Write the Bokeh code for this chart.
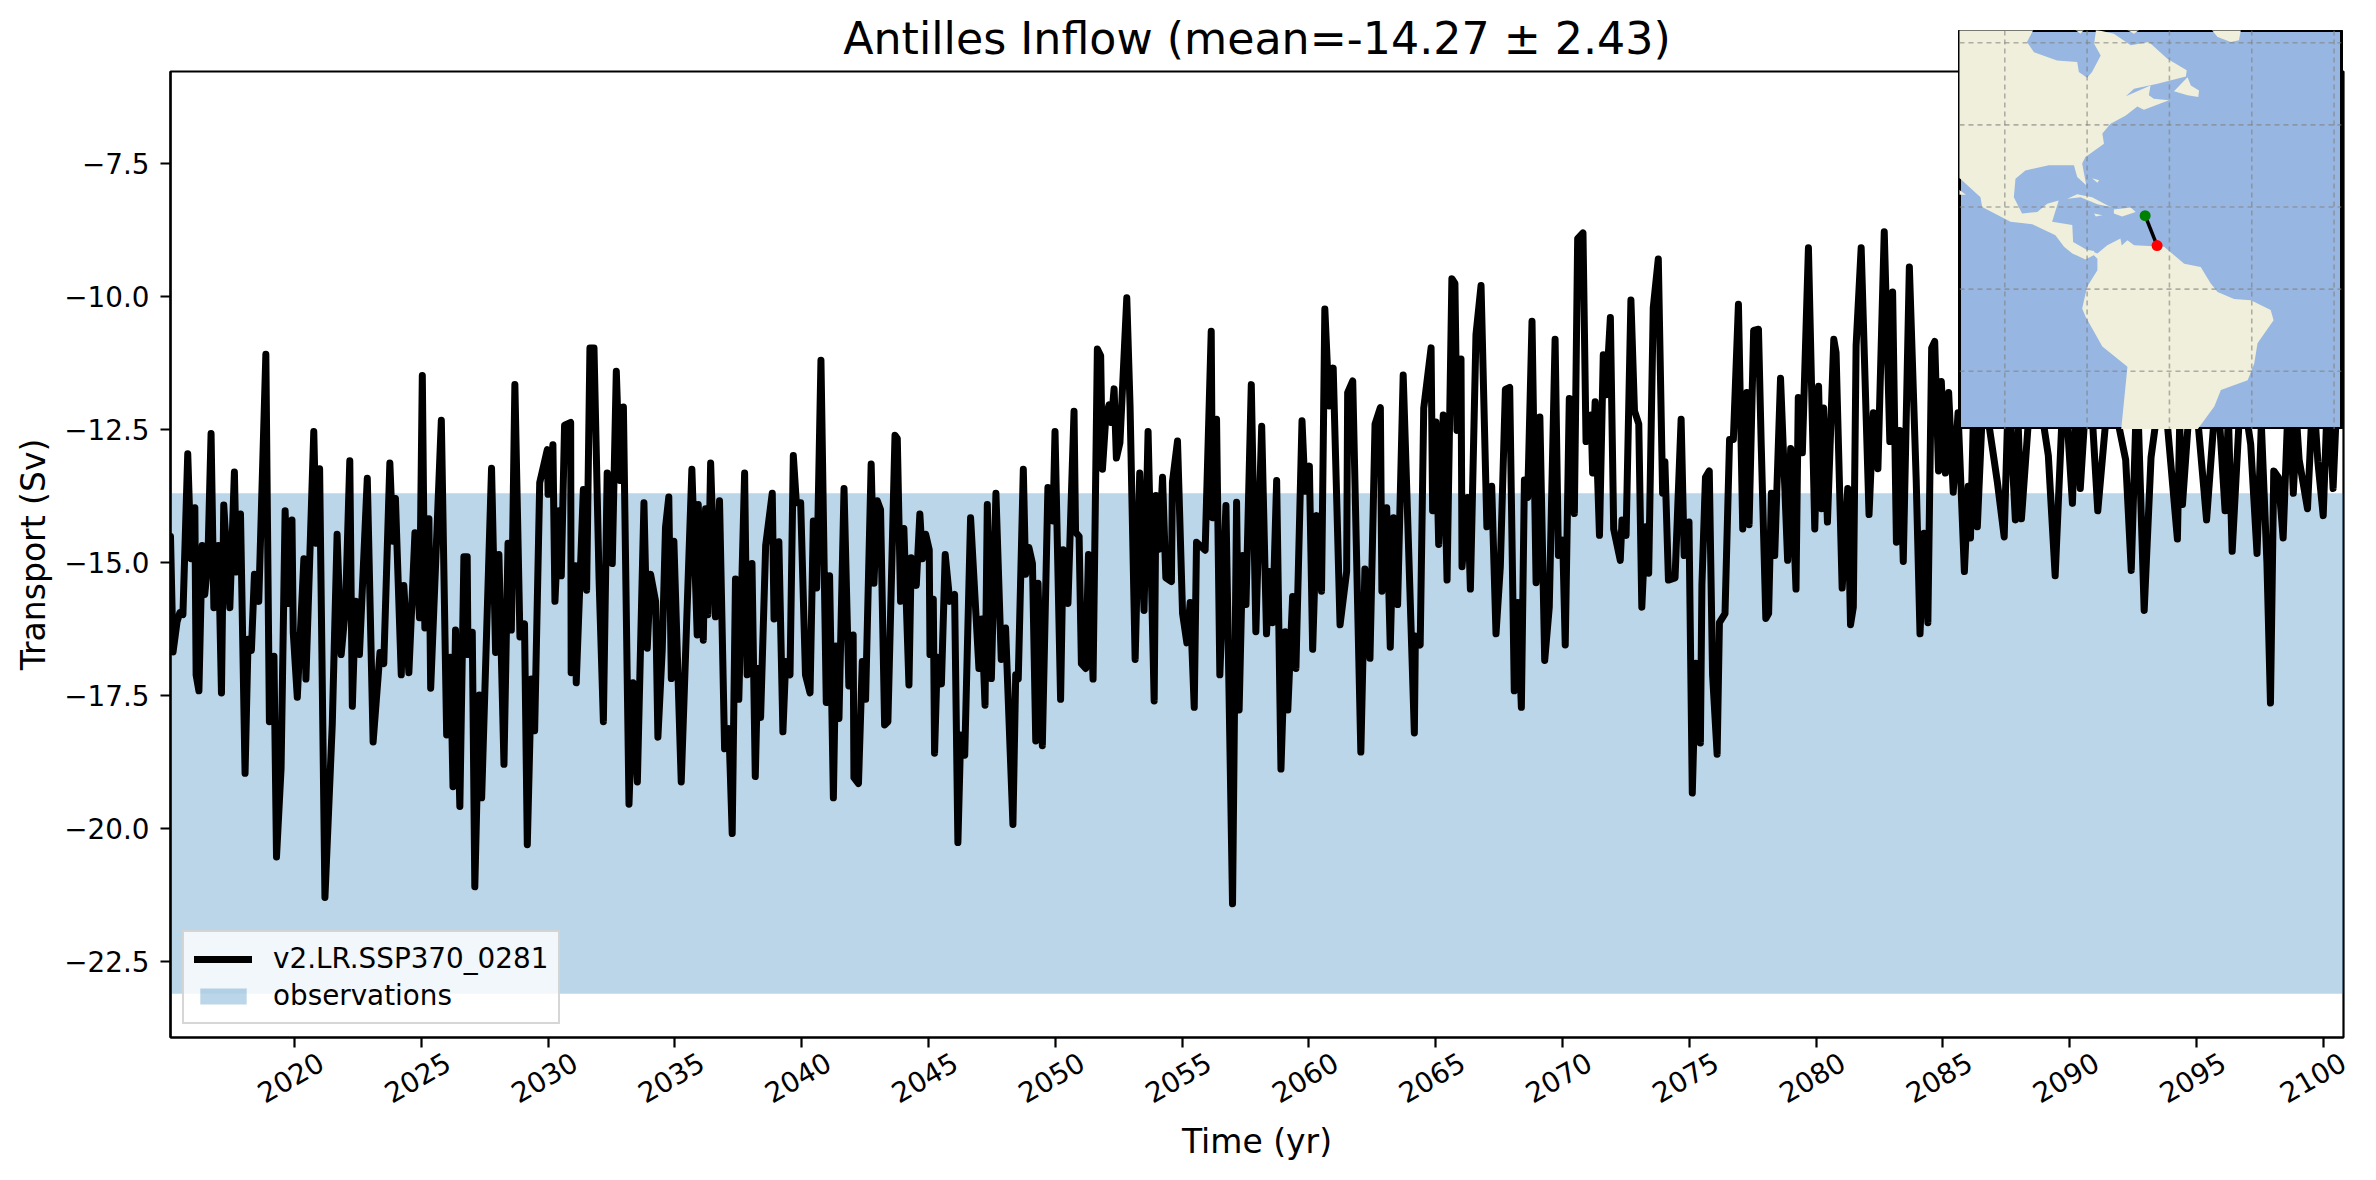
import math
from bokeh.embed import file_html
from bokeh.layouts import column
from bokeh.models import AllLabels, FixedTicker, Legend, LegendItem, LinearAxis, Range1d, Span, Title
from bokeh.plotting import figure
from bokeh.resources import INLINE

TITLE = "Antilles Inflow (mean=-14.27 ± 2.43)"
SERIES_LABEL = "v2.LR.SSP370_0281"
OBS_LABEL = "observations"
OBS_LOW = -23.1
OBS_HIGH = -13.7

X_TICKS = list(range(2020, 2101, 5))
Y_TICKS = [-22.5, -20.0, -17.5, -15.0, -12.5, -10.0, -7.5]

YEARS_A = [2015.11,2015.21,2015.37,2015.48,2015.60,2015.79,2015.92,2016.07,2016.12,2016.23,2016.36,2016.46,2016.58,2016.71,2016.82,2017.00,2017.12,2017.21,2017.45,2017.63,2017.71,2017.87,2018.05,2018.17,2018.30,2018.42,2018.59,2018.87,2019.01,2019.19,2019.29,2019.47,2019.63,2019.75,2019.90,2019.95,2020.11,2020.37,2020.45,2020.76,2020.86,2020.99,2021.20,2021.49,2021.68,2021.84,2022.01,2022.18,2022.28,2022.41,2022.56,2022.87,2023.10,2023.37,2023.52,2023.76,2023.88,2023.98,2024.21,2024.31,2024.51,2024.75,2024.93,2025.04,2025.14,2025.30,2025.37,2025.79,2026.00,2026.15,2026.25,2026.35,2026.52,2026.68,2026.81,2026.84,2027.01,2027.11,2027.29,2027.38,2027.77,2027.93,2028.06,2028.26,2028.42,2028.55,2028.69,2028.89,2029.07,2029.18,2029.34,2029.47,2029.67,2029.97,2030.00,2030.19,2030.27,2030.43,2030.52,2030.65,2030.89,2030.91,2031.08,2031.11,2031.39,2031.52,2031.65,2031.81,2032.01,2032.18,2032.33,2032.53,2032.69,2032.83,2032.97,2033.19,2033.35,2033.52,2033.78,2033.91]
VALUES_A = [-14.51,-16.68,-16.11,-15.94,-15.98,-12.96,-14.93,-13.97,-17.11,-17.41,-14.68,-15.60,-15.02,-12.58,-15.85,-14.68,-17.45,-13.92,-15.85,-13.30,-15.18,-14.09,-18.96,-16.44,-16.65,-15.22,-15.73,-11.09,-17.99,-16.76,-20.53,-18.87,-14.03,-15.77,-14.20,-16.31,-17.53,-14.93,-17.19,-12.54,-14.64,-13.24,-21.29,-18.03,-14.47,-16.73,-15.85,-13.09,-17.70,-15.73,-16.73,-13.42,-18.37,-16.69,-16.90,-13.13,-14.60,-13.80,-17.11,-15.43,-17.07,-14.44,-16.04,-11.49,-16.23,-14.18,-17.36,-12.33,-18.24,-16.78,-19.21,-16.27,-19.58,-14.89,-14.89,-16.73,-16.31,-21.09,-17.49,-19.42,-13.23,-16.69,-14.85,-18.79,-14.64,-16.27,-11.66,-16.40,-16.15,-20.30,-17.19,-18.16,-13.50,-12.88,-13.72,-12.79,-15.73,-14.03,-15.25,-12.42,-12.37,-17.07,-15.06,-17.26,-13.63,-15.52,-10.97,-10.97,-15.31,-17.99,-13.32,-15.02,-11.41,-13.46,-12.08,-19.54,-17.26,-19.12,-13.88,-16.61]

YEARS_B = [2034.04,2034.24,2034.33,2034.50,2034.63,2034.76,2034.86,2034.96,2035.25,2035.67,2035.88,2035.92,2036.12,2036.21,2036.30,2036.41,2036.60,2036.76,2036.96,2037.13,2037.26,2037.39,2037.52,2037.75,2037.85,2038.04,2038.17,2038.27,2038.38,2038.58,2038.84,2038.91,2039.10,2039.26,2039.37,2039.54,2039.67,2039.79,2039.96,2040.15,2040.33,2040.46,2040.59,2040.76,2040.97,2041.10,2041.25,2041.35,2041.47,2041.67,2041.86,2042.03,2042.06,2042.24,2042.39,2042.52,2042.74,2042.85,2042.98,2043.11,2043.27,2043.40,2043.68,2043.77,2043.90,2044.03,2044.23,2044.32,2044.52,2044.66,2044.76,2044.89,2045.03,2045.06,2045.19,2045.24,2045.35,2045.51,2045.66,2045.84,2046.03,2046.16,2046.27,2046.43,2046.66,2046.99,2047.10,2047.23,2047.32,2047.48,2047.66,2047.87,2048.04,2048.33,2048.44,2048.54,2048.74,2048.83,2048.96,2049.10,2049.23,2049.32,2049.49,2049.71,2049.91,2049.99,2050.21,2050.31,2050.50,2050.74,2050.80,2050.94,2051.03,2051.20,2051.31,2051.49,2051.66,2051.79,2051.86,2051.99,2052.12,2052.21,2052.32,2052.41,2052.55,2052.82,2052.95,2053.15,2053.33,2053.50,2053.66]
VALUES_B = [-15.22,-15.73,-18.28,-16.65,-14.34,-13.77,-17.18,-14.60,-19.12,-13.25,-16.36,-13.91,-16.46,-13.99,-15.98,-13.13,-16.02,-13.84,-18.50,-18.12,-20.09,-15.31,-17.57,-13.32,-17.11,-15.02,-19.02,-16.99,-17.91,-14.68,-13.70,-16.06,-14.61,-18.18,-16.86,-17.11,-12.99,-13.88,-13.88,-17.11,-17.45,-14.22,-15.48,-11.20,-17.63,-15.25,-19.42,-16.57,-17.93,-13.61,-17.32,-16.36,-19.04,-19.15,-16.86,-17.57,-13.15,-15.39,-13.84,-14.01,-18.05,-17.99,-12.61,-12.67,-15.73,-14.36,-17.30,-14.91,-15.43,-14.09,-14.93,-14.47,-14.76,-16.73,-15.69,-18.58,-16.78,-17.28,-14.85,-15.73,-15.60,-20.26,-18.24,-18.62,-14.16,-16.99,-16.06,-17.68,-13.91,-17.18,-13.70,-16.82,-16.23,-19.92,-17.11,-17.19,-13.25,-15.22,-14.72,-15.02,-18.35,-15.39,-18.44,-13.59,-14.22,-12.54,-17.57,-14.76,-15.77,-12.16,-14.43,-14.51,-16.90,-16.99,-14.85,-17.19,-10.99,-11.12,-13.25,-12.29,-12.04,-12.37,-11.74,-13.04,-12.75,-10.03,-12.08,-16.82,-13.32,-15.90,-12.54]

YEARS_C = [2053.90,2053.97,2054.10,2054.23,2054.36,2054.58,2054.62,2054.82,2055.02,2055.19,2055.32,2055.48,2055.57,2055.91,2056.15,2056.20,2056.36,2056.49,2056.73,2056.99,2057.15,2057.25,2057.39,2057.52,2057.73,2057.91,2058.14,2058.33,2058.44,2058.57,2058.73,2058.90,2059.07,2059.17,2059.36,2059.49,2059.73,2059.85,2060.02,2060.15,2060.31,2060.50,2060.63,2060.80,2060.96,2061.23,2061.49,2061.53,2061.73,2062.05,2062.21,2062.41,2062.61,2062.82,2062.88,2063.07,2063.21,2063.34,2063.50,2063.72,2064.16,2064.20,2064.39,2064.53,2064.82,2064.88,2065.01,2065.12,2065.30,2065.45,2065.64,2065.76,2065.84,2066.00,2066.04,2066.26,2066.37,2066.59,2066.79,2067.02,2067.21,2067.38,2067.55,2067.75,2067.92,2068.10,2068.23,2068.38,2068.50,2068.63,2068.80,2068.96,2069.11,2069.30,2069.48,2069.71,2069.84,2070.01,2070.11,2070.27,2070.47,2070.60,2070.81,2070.93,2071.13,2071.19,2071.29,2071.46,2071.61,2071.72,2071.89,2072.02,2072.28,2072.35,2072.51,2072.70,2072.84,2073.01,2073.13,2073.27,2073.40]
VALUES_C = [-17.60,-13.74,-14.75,-13.40,-15.29,-15.36,-13.49,-12.72,-15.96,-16.51,-15.75,-17.72,-14.62,-14.77,-10.66,-14.16,-12.31,-17.11,-13.93,-21.41,-13.87,-17.77,-14.87,-15.79,-11.66,-16.30,-12.44,-16.34,-15.17,-16.13,-13.46,-18.88,-16.30,-17.77,-15.64,-16.99,-12.34,-13.66,-13.19,-16.63,-14.12,-15.54,-10.24,-12.06,-11.35,-16.17,-15.17,-11.81,-11.59,-18.56,-15.12,-16.80,-12.40,-12.09,-15.54,-13.97,-16.59,-14.16,-15.79,-11.48,-18.20,-16.38,-16.55,-12.10,-10.97,-14.03,-12.36,-14.66,-12.23,-15.33,-9.67,-9.76,-12.52,-11.18,-15.08,-13.78,-15.50,-10.72,-9.80,-14.33,-13.57,-16.34,-15.08,-11.75,-11.71,-17.41,-15.75,-17.72,-13.45,-13.78,-10.47,-15.38,-12.27,-16.84,-15.84,-10.81,-14.87,-14.58,-16.55,-11.92,-14.08,-8.92,-8.81,-12.73,-12.23,-13.32,-11.98,-14.49,-11.10,-11.85,-10.40,-14.37,-14.96,-14.20,-14.49,-10.07,-12.15,-12.40,-15.84,-14.33,-15.20]

YEARS_D = [2073.58,2073.78,2073.95,2074.04,2074.18,2074.44,2074.68,2074.80,2074.99,2075.12,2075.26,2075.44,2075.50,2075.64,2075.79,2075.92,2076.10,2076.19,2076.41,2076.59,2076.74,2076.94,2077.11,2077.27,2077.36,2077.54,2077.73,2077.84,2078.02,2078.13,2078.24,2078.37,2078.60,2078.88,2079.00,2079.21,2079.30,2079.46,2079.70,2079.95,2080.10,2080.21,2080.30,2080.45,2080.70,2080.79,2081.03,2081.25,2081.36,2081.47,2081.58,2081.78,2082.09,2082.26,2082.44,2082.69,2082.91,2083.02,2083.17,2083.30,2083.44,2083.68,2083.95,2084.10,2084.26,2084.41,2084.56,2084.68,2084.83,2084.94,2085.10,2085.23,2085.41,2085.60,2085.85,2086.00,2086.09,2086.22,2086.36,2086.60,2087.15,2087.42,2087.59,2087.86,2087.97,2088.10,2088.56,2089.16,2089.43,2089.78,2090.11,2090.25,2090.42,2090.75,2091.11,2091.57,2092.21,2092.43,2092.66,2092.94,2093.21,2093.67,2094.25,2094.34,2094.45,2094.85,2095.40,2095.81,2096.13,2096.26,2096.41,2096.77,2097.14,2097.39,2097.56,2097.78,2097.92,2098.05,2098.23,2098.42,2098.65,2098.82,2098.96,2099.05,2099.38,2099.60,2099.79,2100.00,2100.19,2100.39,2100.57,2100.80]
VALUES_D = [-10.22,-9.30,-13.70,-13.11,-15.33,-15.29,-12.31,-14.87,-14.24,-19.33,-16.89,-18.39,-15.42,-13.40,-13.28,-17.11,-18.60,-16.13,-15.96,-12.69,-12.69,-10.15,-14.37,-11.81,-14.29,-10.64,-10.62,-12.82,-16.05,-15.96,-13.70,-14.87,-11.54,-14.96,-12.86,-15.50,-11.90,-12.94,-9.09,-14.37,-11.69,-13.99,-12.10,-14.24,-10.81,-11.06,-15.48,-13.61,-16.17,-15.84,-10.93,-9.09,-14.10,-12.19,-13.24,-8.79,-12.73,-9.92,-14.62,-12.52,-14.98,-9.45,-13.45,-16.34,-14.45,-16.13,-10.97,-10.85,-13.28,-11.60,-13.32,-11.81,-13.68,-12.19,-15.17,-13.57,-14.54,-11.98,-14.33,-11.70,-13.49,-14.52,-11.70,-14.20,-12.40,-14.18,-11.10,-12.99,-15.25,-11.40,-13.89,-12.00,-13.61,-11.10,-14.03,-11.56,-13.07,-15.15,-11.56,-15.90,-13.03,-11.40,-14.56,-12.40,-13.91,-11.20,-14.20,-11.56,-14.03,-12.23,-14.79,-11.56,-12.78,-14.83,-12.40,-15.00,-17.64,-13.28,-13.40,-14.54,-11.56,-13.70,-12.40,-13.07,-13.99,-11.70,-13.11,-14.12,-11.56,-13.61,-11.56,-12.40]

YEARS = YEARS_A + YEARS_B + YEARS_C + YEARS_D
VALUES = VALUES_A + VALUES_B + VALUES_C + VALUES_D

# Inset map, lon/lat
GRID_LONS = [-100, -80, -60, -40, -20]
GRID_LATS = [60, 40, 20, 0, -20]
SECTION_LON = [-65.9, -63.0]
SECTION_LAT = [17.9, 10.6]

NORTH_AMERICA_LON = [-113,-92.1,-94.6,-92.9,-87.3,-82.4,-82,-80,-78.8,-76.7,-78.3,-77.9,-77.9,-73.5,-69.4,-65,-60.5,-55.8,-56,-62.9,-68.6,-70.6,-64.6,-65,-63.8,-60.1,-66.2,-67.8,-70.6,-74.3,-76.3,-75.9,-80.4,-81.2,-80.2,-82.4,-83.2,-89.3,-95,-97.4,-97.8,-95.8,-92.1,-89.7,-86.9,-88.5,-83.6,-83.4,-80,-78.3,-78.3,-80.4,-83.6,-85.6,-87.7,-93.3,-98.6,-105.5,-105.9,-110.8,-113]
NORTH_AMERICA_LAT = [65,65,60.2,57.7,55.7,55.3,52.9,51.5,52.9,56.9,59.8,62.6,63.2,62.2,59.4,60.2,56.1,53.3,51.8,50,48.8,47,49.6,47.2,46.4,46,43.7,44.5,42.3,40.3,37.9,35.4,32.2,30.6,25.3,27.3,30.2,30.2,28.9,26.9,22.4,18.4,18.8,20.8,21.6,16.4,15.6,11.5,9.5,9.3,8.3,7.2,8.7,10.3,13.1,15.8,16.4,20,22.4,26.9,28]
SOUTH_AMERICA_LON = [-79.6,-77.5,-75.1,-71.9,-71.6,-70.2,-68.6,-61.3,-56.4,-52.4,-50,-48.3,-44.3,-40.2,-35.4,-34.7,-38.6,-39.4,-41,-47.5,-49.1,-53.2,-54,-71.9,-70.2,-76.3,-80.4,-81.2,-80,-77.5,-77.5]
SOUTH_AMERICA_LAT = [9.5,8.7,10.7,12.3,10.6,11.9,10.7,10.3,6.2,5.4,1.4,-0.7,-2.4,-2.7,-5.1,-7.6,-13.2,-18.1,-22.2,-24.6,-28.6,-34.2,-36,-36,-18.9,-14,-6.7,-4.7,0.6,4.6,7.4]
ISLANDS_LON = [[-84.8,-82.4,-78.8,-74.3,-77.5,-81.6],[-73.5,-69.4,-68.2,-71.5,-73.5],[-78.3,-76.3,-77.9],[-58.9,-55.6,-54.8,-52.8,-53,-55.6],[-50.4,-42.5,-43.1,-45.1,-48.3],[-84,-80,-81.6],[-71.9,-66.2,-68.6],[-111.5,-109.4,-111.5],[-78.8,-77.1,-77.5]]
ISLANDS_LAT = [[22,23.1,22.4,20,20.7,22.4],[19.4,19.9,18.8,17.7,18.4],[18.4,18,17.7],[48.2,51.6,49.6,48.4,46.8,47.2],[64,64,60.6,60.2,61.4],[64,64,62.2],[64,64,62.2],[24.5,23,23],[27,26.5,25.9]]

FONT = "DejaVu Sans"
BLACK = "#000000"
X_START = 2015.11
X_END = 2100.8
BORDER_L = 170
BORDER_R = 25

p = figure(width=2368, height=1172, output_backend="svg", toolbar_location=None,
           x_range=Range1d(X_START, X_END), y_range=Range1d(-23.92, -5.78),
           min_border_left=BORDER_L, min_border_right=BORDER_R, min_border_top=71, min_border_bottom=135,
           frame_width=2173, frame_height=966)
p.title = Title(text=TITLE, align="center", text_font=FONT, text_font_size="44.3px",
                text_font_style="normal", text_color=BLACK, standoff=15)
p.grid.visible = False
p.outline_line_color = BLACK
p.outline_line_width = 2.2

p.xaxis.ticker = FixedTicker(ticks=X_TICKS)
p.yaxis.ticker = FixedTicker(ticks=Y_TICKS)
p.xaxis.major_label_overrides = {t: "" for t in X_TICKS}
p.yaxis.major_label_overrides = {t: f"{t:.1f}".replace("-", "\u2212") for t in Y_TICKS}
p.yaxis.axis_label = "Transport (Sv)"
for ax in (p.xaxis[0], p.yaxis[0]):
    ax.axis_label_text_font = FONT
    ax.axis_label_text_font_size = "33px"
    ax.axis_label_text_font_style = "normal"
    ax.axis_label_text_color = BLACK
    ax.major_label_text_font = FONT
    ax.major_label_text_font_size = "27.8px"
    ax.major_label_text_color = BLACK
    ax.major_tick_out = 10
    ax.major_tick_in = 0
    ax.minor_tick_out = 0
    ax.minor_tick_in = 0
    ax.major_tick_line_width = 2.2
    ax.major_tick_line_color = BLACK
    ax.axis_line_width = 2.2
    ax.axis_line_color = BLACK
    ax.major_label_standoff = 11
p.yaxis[0].axis_label_standoff = 8
p.xaxis[0].major_label_standoff = 0

# Bokeh right-aligns slanted labels on their tick; this unticked axis carries the
# year texts half a label to the right, so that they sit centred under the ticks.
LABEL_SHIFT = 1.05
label_ticks = [min(t + LABEL_SHIFT, X_END - 0.01) for t in X_TICKS]
label_axis = LinearAxis(ticker=FixedTicker(ticks=label_ticks),
                        major_label_overrides={k: str(t) for k, t in zip(label_ticks, X_TICKS)},
                        major_label_policy=AllLabels(),
                        major_label_orientation=math.radians(30),
                        major_label_text_font=FONT, major_label_text_font_size="27.8px",
                        major_label_text_color=BLACK, major_label_standoff=12,
                        major_tick_out=0, major_tick_in=0, minor_tick_out=0, minor_tick_in=0,
                        axis_line_color=None, major_tick_line_color=None,
                        axis_label="Time (yr)", axis_label_text_font=FONT,
                        axis_label_text_font_size="33px", axis_label_text_font_style="normal",
                        axis_label_text_color=BLACK, axis_label_standoff=6)
p.add_layout(label_axis, "below")

band = p.quad(left=[X_START], right=[X_END], bottom=[OBS_LOW], top=[OBS_HIGH],
              fill_color="#1f77b4", fill_alpha=0.3, line_color=None)
line = p.line(YEARS, VALUES, line_color=BLACK, line_width=7, line_join="round", line_cap="round")

legend = Legend(items=[LegendItem(label=SERIES_LABEL, renderers=[line]),
                       LegendItem(label=OBS_LABEL, renderers=[band])],
                location=(12, 13), background_fill_color="#ffffff", background_fill_alpha=0.8,
                border_line_color="#cccccc", border_line_alpha=0.8, border_line_width=2.5,
                label_text_font=FONT, label_text_font_size="27.8px", label_text_color=BLACK,
                glyph_width=58, glyph_height=20, spacing=4, padding=10, margin=0,
                label_standoff=21)
p.add_layout(legend, "center")

INSET_W = 382
inset = figure(width=BORDER_L + INSET_W + BORDER_R, height=399, output_backend="svg", toolbar_location=None,
               x_range=Range1d(-111.0, -18.2), y_range=Range1d(-34.2, 63.0),
               min_border_left=BORDER_L, min_border_right=BORDER_R, min_border_top=0, min_border_bottom=0,
               frame_width=INSET_W, frame_height=399,
               background_fill_color="#97b6e1", border_fill_color=None, x_axis_location=None, y_axis_location=None)
inset.grid.visible = False
inset.outline_line_color = BLACK
inset.outline_line_width = 3
LAND = "#efefdb"
inset.patch(NORTH_AMERICA_LON, NORTH_AMERICA_LAT, fill_color=LAND, line_color=None)
inset.patch(SOUTH_AMERICA_LON, SOUTH_AMERICA_LAT, fill_color=LAND, line_color=None)
inset.patches(ISLANDS_LON, ISLANDS_LAT, fill_color=LAND, line_color=None)
for lon in GRID_LONS:
    inset.add_layout(Span(location=lon, dimension="height", line_color="#808080", line_alpha=0.6,
                          line_dash="5 4", line_width=1.6))
for lat in GRID_LATS:
    inset.add_layout(Span(location=lat, dimension="width", line_color="#808080", line_alpha=0.6,
                          line_dash="5 4", line_width=1.6))
inset.line(SECTION_LON, SECTION_LAT, line_color=BLACK, line_width=3.5)
inset.scatter(SECTION_LON[:1], SECTION_LAT[:1], size=11, fill_color="#008000", line_color=None)
inset.scatter(SECTION_LON[1:], SECTION_LAT[1:], size=11, fill_color="#ff0000", line_color=None)
inset.styles = {"position": "absolute", "left": f"{1959 - BORDER_L}px", "top": "30px", "z-index": "10"}

page = column(p, inset, width=2368, height=1172)
open("out.html", "w").write(file_html(page, INLINE))
